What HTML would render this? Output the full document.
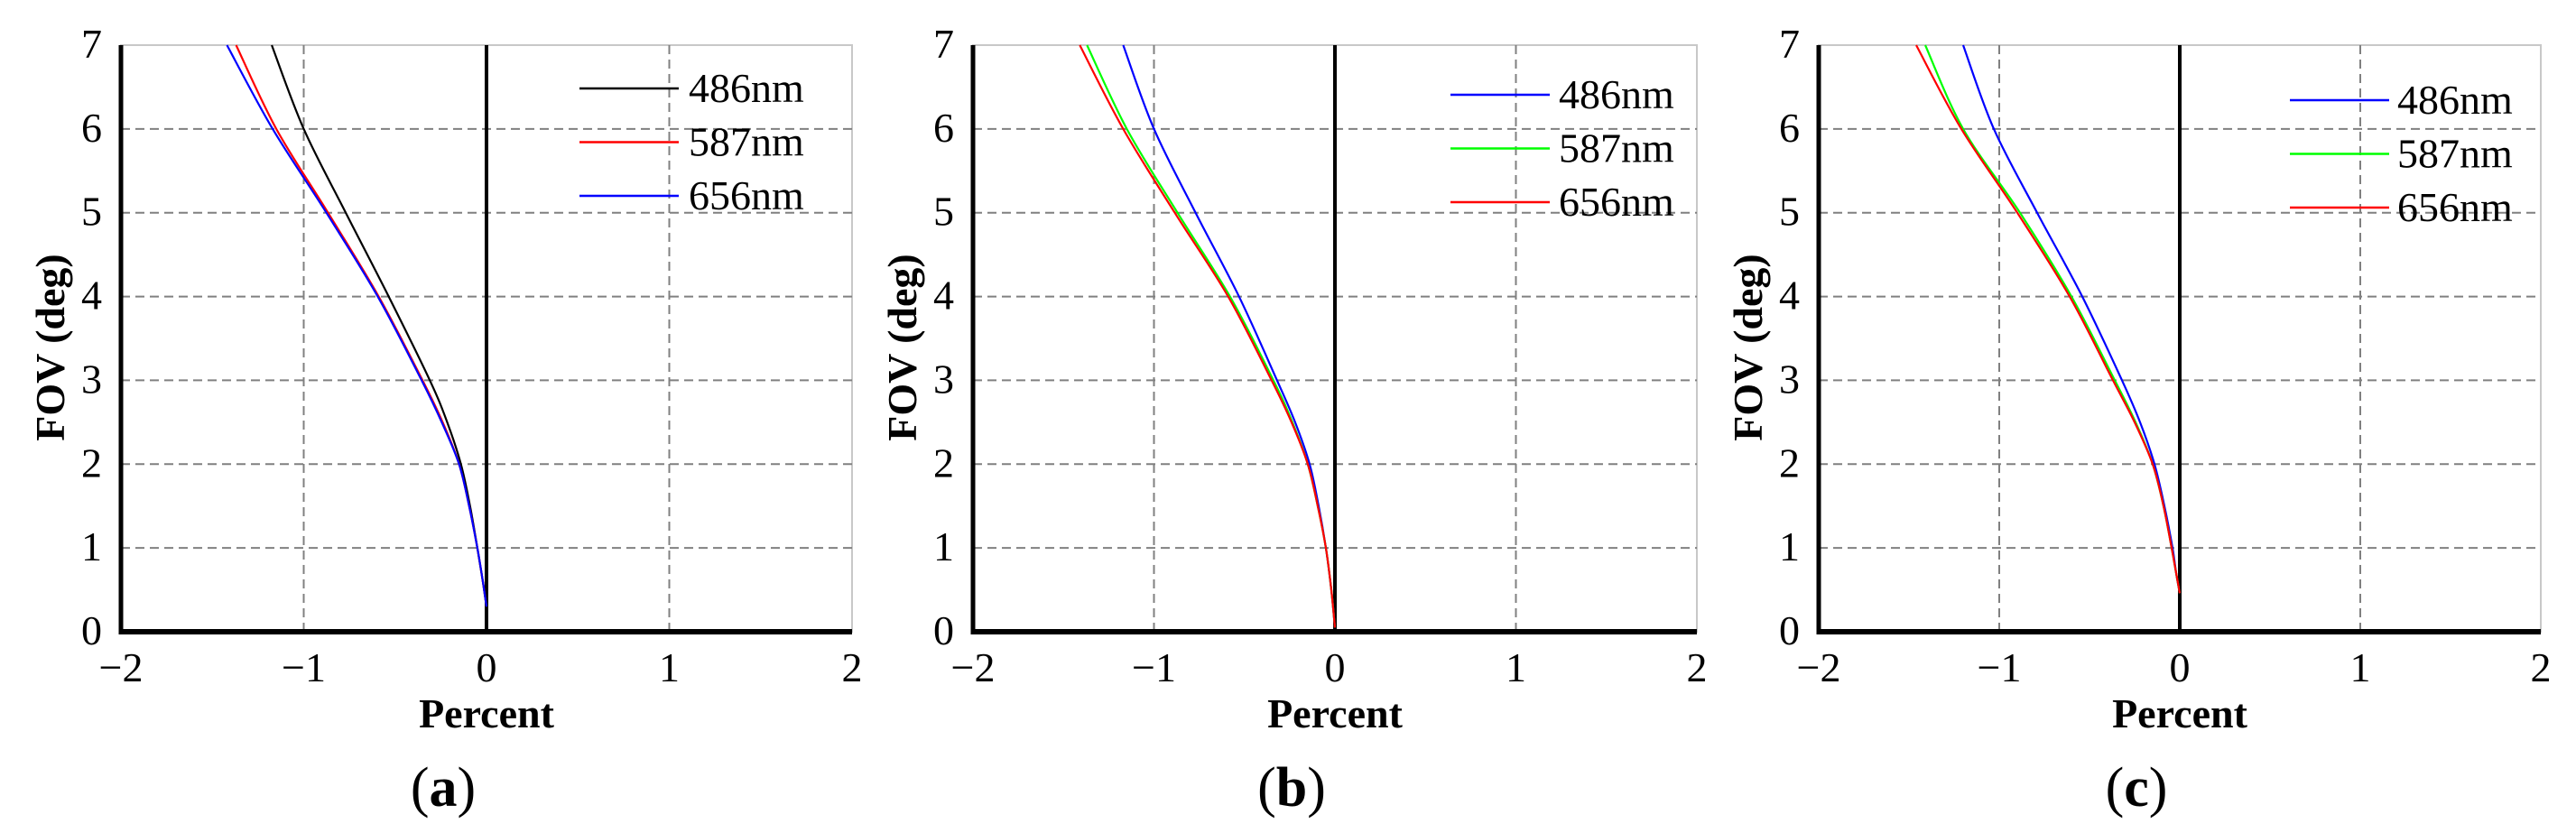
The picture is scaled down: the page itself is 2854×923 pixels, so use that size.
<!DOCTYPE html>
<html><head><meta charset="utf-8">
<style>
html,body{margin:0;padding:0;background:#fff;}
svg{display:block;font-family:"Liberation Serif","DejaVu Serif",serif;}
</style></head>
<body>
<svg id="fig" width="2854" height="923" viewBox="0 0 2854 923" xmlns="http://www.w3.org/2000/svg" font-family="'Liberation Serif', 'DejaVu Serif', serif"></svg>
<script>
// ---- data ----
const xTicks = [-2, -1, 0, 1, 2];
const yTicks = [0, 1, 2, 3, 4, 5, 6, 7];
const xTickLabels = ["\u22122", "\u22121", "0", "1", "2"];
const fovA = [0.3, 0.6, 1, 1.5, 2, 2.5, 3, 4, 5, 6, 7];
const a486 = [0, -0.02, -0.05, -0.09, -0.14, -0.215, -0.31, -0.535, -0.77, -1.0, -1.175];
const a587 = [0, -0.02, -0.05, -0.095, -0.15, -0.24, -0.35, -0.59, -0.867, -1.15, -1.37];
const a656 = [0, -0.02, -0.05, -0.095, -0.15, -0.245, -0.355, -0.595, -0.876, -1.17, -1.42];
const fovB = [0.05, 0.5, 1, 1.5, 2, 2.5, 3, 4, 5, 6, 7];
const b486 = [0, -0.02, -0.05, -0.09, -0.14, -0.22, -0.32, -0.53, -0.77, -1.0, -1.17];
const b587 = [0, -0.02, -0.05, -0.095, -0.15, -0.235, -0.34, -0.58, -0.87, -1.15, -1.37];
const b656 = [0, -0.02, -0.05, -0.095, -0.15, -0.24, -0.35, -0.59, -0.885, -1.17, -1.41];
const fovC = [0.46, 0.7, 1, 1.5, 2, 2.5, 3, 4, 5, 6, 7];
const c486 = [0, -0.02, -0.04, -0.085, -0.14, -0.22, -0.32, -0.54, -0.79, -1.03, -1.2];
const c587 = [0, -0.02, -0.045, -0.09, -0.15, -0.245, -0.36, -0.6, -0.885, -1.2, -1.41];
const c656 = [0, -0.02, -0.045, -0.09, -0.15, -0.25, -0.37, -0.61, -0.9, -1.21, -1.46];
const seriesNames = ["486nm", "587nm", "656nm"];

// ---- layout ----
const NS = "http://www.w3.org/2000/svg";
const FONT = "'Liberation Serif', 'DejaVu Serif', serif";
const svg = document.getElementById("fig");
const panels = [
  {id:"a", x0:134, x1:944, leg:{x:642, y:98, tx:763}, fov:fovA, series:[a486,a587,a656], colors:["#000000","#ff0000","#0000ff"]},
  {id:"b", x0:1078, x1:1880, leg:{x:1607, y:105, tx:1727}, fov:fovB, series:[b486,b587,b656], colors:["#0000ff","#00ff00","#ff0000"]},
  {id:"c", x0:2015, x1:2815, leg:{x:2537, y:111, tx:2656}, fov:fovC, series:[c486,c587,c656], colors:["#0000ff","#00ff00","#ff0000"]}
];
const yTop = 50, yBot = 700;

function mk(tag, attrs, parent){
  const e = document.createElementNS(NS, tag);
  for (const k in attrs) e.setAttribute(k, attrs[k]);
  if (tag === "text") e.setAttribute("font-family", FONT);
  (parent||svg).appendChild(e);
  return e;
}

panels.forEach(p => {
  const g = mk("g", {});
  
  
  const sx = v => p.x0 + (v + 2) / 4 * (p.x1 - p.x0);
  const sy = v => yBot - v / 7 * (yBot - yTop);
  mk("rect", {x:p.x0, y:yTop, width:p.x1-p.x0, height:yBot-yTop, fill:"none", stroke:"#c8c8c8", "stroke-width":2}, g);
  yTicks.forEach(t => {
    if (t === 0 || t === 7) return;
    const l = mk("line", {x1:p.x0, x2:p.x1, y1:sy(t), y2:sy(t), stroke:"#808080", "stroke-width":2, "stroke-dasharray":"10 6"}, g);
    
    
  });
  xTicks.forEach(t => {
    if (t === -2 || t === 2 || t === 0) return;
    const l = mk("line", {x1:sx(t), x2:sx(t), y1:yTop, y2:yBot, stroke:"#808080", "stroke-width":2, "stroke-dasharray":"10 6"}, g);
    
    
  });
  const z = mk("line", {x1:sx(0), x2:sx(0), y1:yTop, y2:yBot, stroke:"#000", "stroke-width":4}, g);
  
  
  const ya = mk("line", {x1:p.x0, x2:p.x0, y1:yTop, y2:yBot+3, stroke:"#000", "stroke-width":5}, g);
  
  
  const xa = mk("line", {x1:p.x0, x2:p.x1, y1:yBot, y2:yBot, stroke:"#000", "stroke-width":6}, g);
  
  
  yTicks.forEach(t => {
    const tx = mk("text", {x:p.x0-21, y:sy(t)+14, "font-size":46, "text-anchor":"end"}, g);
    tx.textContent = String(t);
    
    
  });
  xTicks.forEach((t, i) => {
    const tx = mk("text", {x:sx(t), y:755, "font-size":46, "text-anchor":"middle"}, g);
    tx.textContent = xTickLabels[i];
    
    
  });
  const xt = mk("text", {x:sx(0), y:806, "font-size":46, "font-weight":"bold", "text-anchor":"middle"}, g);
  xt.textContent = "Percent";
  
  
  const yx = p.x0 - 79, yc = 385;
  const yt = mk("text", {x:yx, y:yc, "font-size":46, "font-weight":"bold", "text-anchor":"middle", transform:"rotate(-90 "+yx+" "+yc+") translate(0 16)"}, g);
  yt.textContent = "FOV (deg)";
  
  
  const cap = mk("text", {x:sx(0)-48, y:893, "font-size":62, "text-anchor":"middle"}, g);
  cap.innerHTML = '(<tspan font-weight="bold">' + p.id + '</tspan>)';
  
  
  p.series.forEach((vals, si) => {
    const pts = vals.map((v, i) => [sx(v), sy(p.fov[i])]);
    let d = "M" + pts[0][0] + " " + pts[0][1];
    for (let i = 0; i < pts.length - 1; i++) {
      const p0 = pts[Math.max(0, i-1)], p1 = pts[i], p2 = pts[i+1], p3 = pts[Math.min(pts.length-1, i+2)];
      const c1x = p1[0] + (p2[0]-p0[0])/6, c1y = p1[1] + (p2[1]-p0[1])/6;
      const c2x = p2[0] - (p3[0]-p1[0])/6, c2y = p2[1] - (p3[1]-p1[1])/6;
      d += " C" + c1x + " " + c1y + " " + c2x + " " + c2y + " " + p2[0] + " " + p2[1];
    }
    const path = mk("path", {d:d, fill:"none", stroke:p.colors[si], "stroke-width":2.2}, g);
    
    
    const ly = p.leg.y + si * 59.5;
    const ll = mk("line", {x1:p.leg.x, x2:p.leg.x+110, y1:ly, y2:ly, stroke:p.colors[si], "stroke-width":2.5}, g);
    
    
    const lt = mk("text", {x:p.leg.tx, y:ly+15, "font-size":46}, g);
    lt.textContent = seriesNames[si];
    
    
  });
});
</script>
</body></html>
